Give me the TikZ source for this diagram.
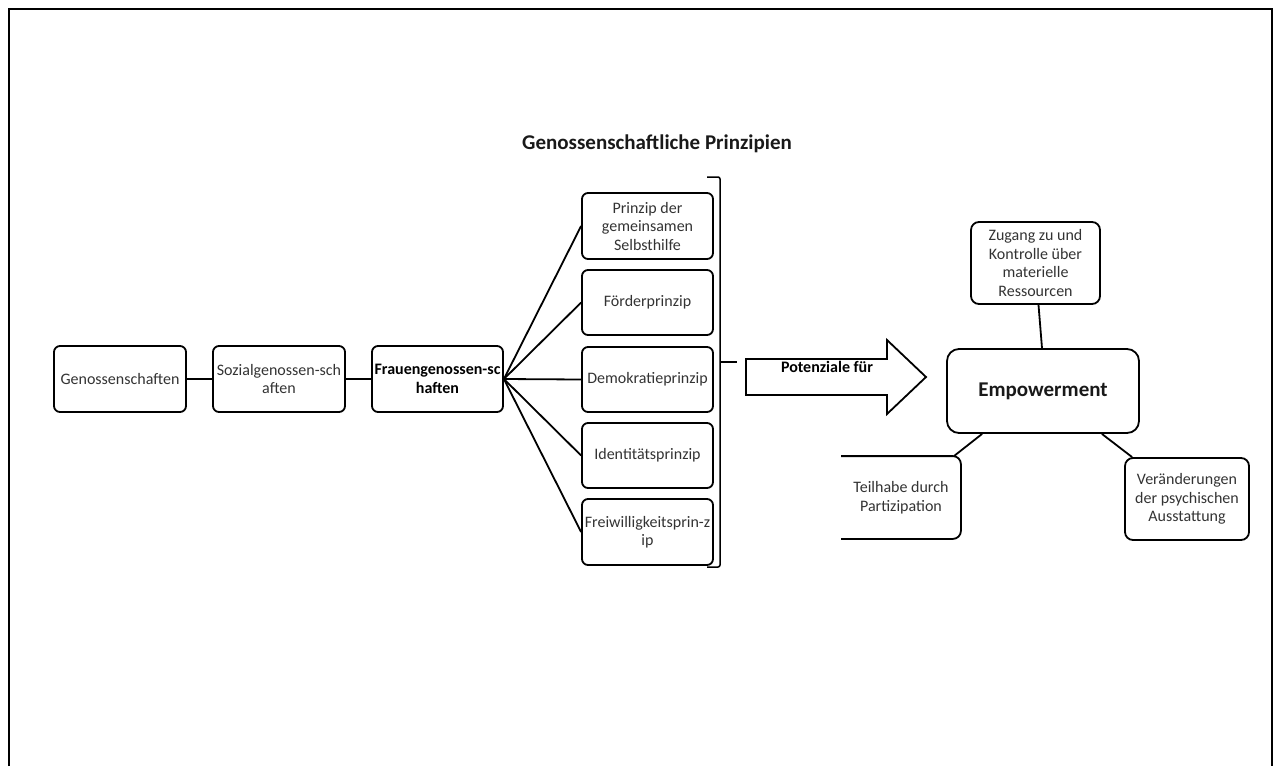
\documentclass[tikz,border=0pt]{standalone}
\usepackage{fontspec}
\setmainfont{Carlito}
\usetikzlibrary{calc}
\begin{document}
\begin{tikzpicture}[x=1pt,y=-1pt,
  line width=1.8pt,
  txt/.style={align=center, inner sep=1pt, font=\fontsize{16}{18.5}\selectfont, text=black!80},
  box/.style={txt, draw, rounded corners=6pt, minimum width=131, minimum height=66},
  bbox/.style={box, font=\fontsize{16}{18.5}\selectfont\bfseries, text=black},
  bigtxt/.style={font=\fontsize{21}{25}\selectfont\bfseries, text=black!90, inner sep=1pt},
  conn/.style={line width=1.8pt},
  frame/.style={line width=2.6pt}]
\useasboundingbox (0,0) rectangle (1273,766);
\draw[frame] (9,766) -- (9,9) -- (1272,9) -- (1272,766);

% left chain
\node[box, minimum width=132] (gen) at (120,379) {Genossenschaften};
\node[box, minimum width=132] (soz) at (279,379) {Sozialgenossen-sch\\aften};
\node[bbox] (frau) at (437.5,379) {Frauengenossen-sc\\haften};

% principles
\node[bigtxt] (title) at (657,144) {Genossenschaftliche Prinzipien};
\node[box] (p1) at (647.5,226) {Prinzip der\\gemeinsamen\\Selbsthilfe};
\node[box, minimum height=65] (p2) at (647.5,302.5) {Förderprinzip};
\node[box, minimum height=65] (p3) at (647.5,379.5) {Demokratieprinzip};
\node[box, minimum height=65] (p4) at (647.5,455.5) {Identitätsprinzip};
\node[box] (p5) at (647.5,532) {Freiwilligkeitsprin-z\\ip};

% bracket
\coordinate (bt) at (707,177);
\coordinate (bb) at (707,567);
\coordinate (bm) at (720,362);
\coordinate (bmt) at (737,362);
\draw[conn, line width=1.5pt, rounded corners=2pt] (bt) -- (720,177) -- (720,567) -- (bb);
\draw[conn, line width=1.5pt] (bm) -- (bmt);

% connectors left
\draw[conn] (gen.east) -- (soz.west);
\draw[conn] (soz.east) -- (frau.west);
\foreach \p in {p1,p2,p3,p4,p5} \draw[conn] (frau.east) -- (\p.west);

% block arrow
\draw[line width=1.8pt] (746,359) -- (887,359) -- (887,340) -- (926,377) -- (887,414) -- (887,395) -- (746,395) -- cycle;
\node[txt, font=\fontsize{16}{18.5}\selectfont\bfseries, text=black] (pot) at (827,367) {Potenziale für};

% empowerment cluster
\node[box, rounded corners=12pt, minimum width=192, minimum height=84, bigtxt] (emp) at (1043,391) {Empowerment};
\node[box, rounded corners=8pt, minimum width=129, minimum height=82] (zug) at (1035.5,263) {Zugang zu und\\Kontrolle über\\materielle\\Ressourcen};
\node[txt, minimum width=118, minimum height=81] (teil) at (901,497.5) {Teilhabe durch\\Partizipation};
\draw[line width=1.8pt, rounded corners=8pt] (teil.north west) -- (teil.north east) -- (teil.south east) -- (teil.south west);
\node[box, rounded corners=8pt, minimum width=124, minimum height=82] (ver) at (1187,499) {Veränderungen\\der psychischen\\Ausstattung};

\draw[conn] ([xshift=3pt]zug.south) -- ([xshift=-1pt]emp.north);
\draw[conn] ($(emp.south west)+(36,0)$) -- ($(teil.north east)+(-7,0)$);
\draw[conn] ($(emp.south east)+(-38,0)$) -- ($(ver.north west)+(8,0)$);
\end{tikzpicture}
\end{document}
